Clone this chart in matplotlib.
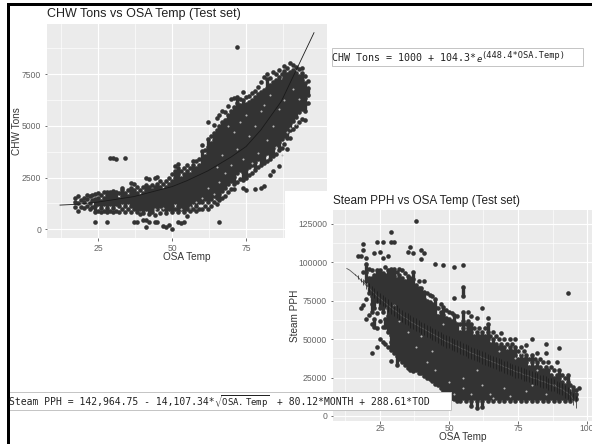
import matplotlib
matplotlib.use("Agg")
import matplotlib.pyplot as plt
from matplotlib.patches import Rectangle

plt.rcParams['font.family'] = ['Liberation Sans', 'DejaVu Sans']

# CHW chart: outside air temperature -> CHW tons read in that column
chw_temp = list(range(17, 98))
chw_tons = [
 [1100,1300,1500],[900,1250,1600],[1100,1400],[1050,1300,1500],[1150,1450,1650],[1000,1250,1600],
 [1100,1400,1650],[330,850,1150,1450,1700],[900,1200,1500,1750],[850,1050,1350,1650],[900,1200,1500,1800],
 [330,850,1050,1350,1650,1820],[900,1200,1500,1800,3450],[850,1050,1350,1650,1850,3450],[900,1200,1500,1800,3380],
 [850,1150,1450,1750],[1000,1300,1600,1900,2000],[850,1150,1450,1750,3450],[1000,1300,1600,1900],
 [850,1150,1450,1750,2000,2250],[330,1000,1300,1600,1900,2200],[330,850,1150,1450,1750,2050],[750,1000,1300,1600,1900],
 [430,800,1150,1450,1750,2050],[130,430,1000,1300,1600,1900,2150,2500],[350,750,1150,1450,1750,2050,2450],
 [850,1000,1300,1600,1900,2150],[350,700,1150,1450,1750,2050,2500],[350,1000,1300,1600,1900,2200,2550],
 [800,1150,1450,1750,2050,2350],[150,1000,1300,1600,1900,2200],[100,800,1150,1450,1750,2050,2350],
 [200,1000,1300,1600,1900,2200,2500],[0,850,1150,1450,1750,2050,2350,2650],[1000,1300,1600,1900,2200,2500,2800,3050],
 [350,850,1150,1450,1750,2050,2350,2650,2950,3150],[300,1000,1300,1600,1900,2200,2500,2800],
 [350,850,1150,1450,1750,2050,2350,2650,2950],[650,1000,1300,1600,1900,2200,2500,2800,3100],
 [900,1150,1450,1750,2050,2350,2650,2950],[1000,1300,1600,1900,2200,2500,2800,3100,3300],
 [900,1150,1450,1750,2050,2350,2650,2950,3300],[1000,1300,1600,1900,2200,2500,2800,3100,3400],
 [1000,1300,1600,1900,2200,2500,2800,3100,3400,3800,4050],[1150,1450,1750,2050,2350,2650,2950,3250,3550,3850],
 [1000,1300,1600,1900,2200,2500,2800,3100,3400,3700,4000,4350,5200],
 [1150,1450,1750,2050,2350,2650,2950,3250,3550,3850,4150,4500],
 [1300,1600,1900,2200,2500,2800,3100,3400,3700,4000,4300,4650,5050],
 [1200,1500,1800,2150,2500,2850,3200,3550,3900,4250,4600,4800,5400],
 [330,1400,1700,2000,2350,2700,3050,3400,3750,4100,4450,4800,5000,5500],
 [1500,1850,2200,2550,2900,3250,3600,3950,4300,4650,5000,5200,5700],
 [1600,2000,2350,2700,3050,3400,3750,4100,4450,4800,5150,5300,5650],
 [1800,2200,2550,2900,3250,3600,3950,4300,4650,5000,5350,5500,5950],
 [1950,2350,2700,3050,3400,3750,4100,4450,4800,5150,5500,5700,6300],
 [1950,2200,2550,2900,3250,3600,3950,4300,4650,5000,5350,5700,5900,6350],
 [2300,2700,3050,3400,3750,4100,4450,4800,5150,5500,5850,6100,6400,8800],
 [2450,2850,3200,3550,3900,4250,4600,4950,5300,5650,6000,6300],
 [2000,2400,2750,3100,3450,3800,4150,4500,4850,5200,5550,5900,6250,6650],
 [1900,2500,2900,3250,3600,3950,4300,4650,5000,5350,5700,6050,6400],
 [2600,3000,3350,3700,4050,4400,4750,5100,5450,5800,6150,6450],
 [2700,3100,3450,3800,4150,4500,4850,5200,5550,5900,6250,6600],
 [1950,2850,3250,3600,3950,4300,4650,5000,5350,5700,6050,6400,6700],
 [3000,3400,3750,4100,4450,4800,5150,5500,5850,6200,6550,6900],
 [2000,3100,3500,3850,4200,4550,4900,5250,5600,5950,6300,6650,7100],
 [2100,3200,3600,3950,4300,4650,5000,5350,5700,6050,6400,6750,7350],
 [3300,3700,4050,4400,4750,5100,5450,5800,6150,6500,6850,7250,7500],
 [2600,3400,3800,4150,4500,4850,5200,5550,5900,6250,6600,6950,7300],
 [2800,3550,3950,4300,4650,5000,5350,5700,6050,6400,6750,7100,7600],
 [3650,4050,4400,4750,5100,5450,5800,6150,6500,6850,7200,7500],
 [3050,3850,4200,4550,4900,5250,5600,5950,6300,6650,7000,7350,7700],
 [3950,4350,4700,5050,5400,5750,6100,6450,6800,7150,7500],
 [4100,4500,4850,5200,5550,5900,6250,6600,6950,7300,7650,7900],
 [3900,4400,4700,5050,5400,5750,6100,6450,6800,7150,7500,7800],
 [4400,4800,5150,5500,5850,6200,6550,6900,7250,7600,8050],
 [4850,5250,5600,5950,6300,6650,7000,7350,7700,7950],
 [5000,5450,5800,6150,6500,6850,7200,7550,7850],
 [5200,5650,6000,6350,6700,7050,7400,7750],
 [5350,5800,6100,6500,6850,7200,7550,7800],
 [5300,5700,6050,6350,6700,7050,7400],
 [6100,6500,6850,7150],
]

# light specks left open inside the CHW cloud
chw_open_temp = [53,47,44,56,58,60,62,64,66,68,70,72,74,76,78,79,80,82,84,85,86,87,88,89,90,91,92,93,75,77,71,69,73,83,81,67,65]
chw_open_tons = [1000,1050,1000,1100,1300,1500,2000,1700,2300,2700,3100,3900,3400,4500,5000,3700,5700,4300,5000,4000,5800,3600,6250,4700,4890,6800,5100,6300,5500,3200,4700,5000,5200,6500,6000,3600,3000]

# CHW fitted curve
chw_fit_temp = [12, 18, 25, 37, 50, 55, 62, 70, 75, 80, 87, 94, 98]
chw_fit_tons = [1170, 1210, 1320, 1580, 2065, 2350, 2820, 3500, 4000, 4800, 6200, 8300, 9500]

# Steam chart: temperature -> steam flow in thousands of PPH
steam_temp = list(range(17, 98))
steam_kpph = [
 [104],[70,104],[72,94,108,112],[63,76,88,94,99,103],[66,80,85,90,96],[41,60,68,73,78,84,90,95],
 [58,63,70,75,80,86,92,106],[45,57,67,75,80,85,90,95,113],[50,62,70,75,80,85,90,95,107],
 [48,58,68,73,78,83,88,93,103,113],[47,58,63,72,77,82,87,92,97],[45,55,60,65,70,75,80,85,90,95,104],
 [36,43,48,53,58,63,68,73,78,83,88,93,96,113,119.5],[41,46,51,56,61,66,71,76,81,86,91,96,113],
 [33,39,44,49,54,59,64,69,74,79,84,89,94],[37,42,47,52,57,62,67,72,77,82,87,92,96],
 [35,38,40,45,50,55,60,65,70,75,80,85,90,95],[33,38,43,48,53,58,63,68,73,78,83,88,93],
 [31,36,41,46,51,56,61,66,71,76,81,86,91,107],[30,35,40,45,50,55,60,65,70,75,80,85,90,110],
 [29,34,39,44,49,54,59,64,69,74,79,84,89,94,106],[30,35,40,45,50,55,60,65,70,75,80,85,127],
 [28,33,38,43,48,53,58,63,68,73,78,83,88],[28,33,38,43,48,53,58,63,68,73,78,83,102,108],
 [26,31,36,41,46,51,56,61,66,71,76,81,88,106],[25,30,35,40,45,50,55,60,65,70,75,80],
 [24,29,34,39,44,49,54,59,64,69,74,79],[23,28,33,38,43,48,53,58,63,68,73,78],
 [21,26,31,36,41,46,51,56,61,66,71,76,99],[20,25,30,35,40,45,50,55,60,65,70],
 [18,23,28,33,38,43,48,53,58,63,68,73],[16,21,26,31,36,41,46,51,56,61,66,71,98],
 [14,19,24,29,34,39,44,49,54,59,64,69],[13,18,23,28,33,38,43,48,53,58,63,68],
 [12,17,22,27,32,37,42,47,52,57,62,67],[11,16,21,26,31,36,41,46,51,56,61,66,77,97],
 [10,15,20,25,30,35,40,45,50,55,60,65],[10,15,20,25,30,35,40,45,50,55,60],
 [12,17,22,27,32,37,42,47,52,57,62,68,78,84,98],[10,15,20,25,30,35,40,45,50,55,60],
 [12,17,22,27,32,37,42,47,52,57,62,68],[6.5,10,15,20,25,30,35,40,45,50,55,60,65],
 [12,17,22,27,32,37,42,47,52,57],[5,10,15,20,25,30,35,40,45,50,55,64],
 [12,17,22,27,32,37,42,47,52,57],[6,10,15,20,25,30,35,40,45,50,55,70],
 [12,17,22,27,32,37,42,47,52,57],[10,15,20,25,30,35,40,45,50,55,60,64],
 [12,17,22,27,32,37,42,47,52],[10,15,20,25,30,35,40,45,50,55],
 [12,17,22,27,32,37,42,47,52],[10,15,20,25,30,35,40,45,50],
 [12,17,22,27,32,37,42,47,54],[10,15,20,25,30,35,40,45,50],
 [12,17,22,27,32,37,42,47],[10,15,20,25,30,35,40,45,50],
 [12,17,22,27,32,37,42,47],[10,15,20,25,30,35,40,45,50],
 [12,17,22,27,32,37,42],[10,15,20,25,30,35,40,45],
 [12,17,22,27,32,37,42],[10,15,20,25,30,35,40,46],
 [12,17,22,27,32,37],[10,15,20,25,30,35,40,50],
 [12,17,22,27,32,37],[10,15,20,25,30,35,41],
 [12,17,22,27,32,37],[10,15,20,25,30,35],
 [12,17,22,27,32,41,47],[10,15,20,25,30,35],
 [12,17,22,27,32],[10,15,20,25,30],
 [12,17,22,27,35],[10,15,20,25,30,44],
 [12,17,22,27],[10,15,20,25],
 [12,17,22,27,80],[10,15,20],
 [12,17,19],[11,14,17],[18],
]

# light specks left open inside the steam cloud
steam_open_temp = [50,55,58,62,65,70,72,78,80,85,42,38,45,35,32,30,48,55,60,68,74,82,88,76,66,52,44,40]
steam_open_kpph = [22,18,14,20,14,18,13,16,20,14,35,45,30,55,62,72,60,25,30,42,38,30,20,41,12,14,42,52]

# Steam fitted model: centre and half spread (thousands of PPH) per degree
steam_fit_temp = list(range(13, 97))
steam_fit_mid = [96,95,93.5,92,90.5,88.5,87,85,83.5,81.5,80,78,76.5,75,73.5,72,70.5,69,68,66.5,65,64,63,61.5,60.5,
 59.5,58.5,57.5,56.5,55.5,54.5,53.5,52.5,51.5,50.5,49.5,48.5,48,47,46,45.5,44.5,43.5,43,42,41,40.5,39.5,39,38,
 37.5,36.5,36,35,34.5,33.5,33,32,31.5,30.5,30,29,28.5,28,27,26.5,26,25,24.5,24,23,22.5,22,21,20.5,20,19,18,17.5,
 16,15,13.5,11,9]
steam_fit_half = [0,0,0,0.5,1,1.5,2,2.5,3,3,3,3.5,3.5,3.5,4,4,4,4,4,4,4,4,4,4,4,4,4,4,4,4,4,4,4,4,4,4,4,4,4,4,4,4,
 4,4,4,4,4,4,4,4,4,4,4,4,4,4,4,4,4,4,4,4,4,4,4,4,4,4,4,4,4,4,4,4,4,4,4,4,4,4,4,4,4,4]

x_ticks1 = [25, 50, 75]
y_ticks1 = [0, 2500, 5000, 7500]
x_ticks2 = [25, 50, 75, 100]
y_ticks2 = [0, 25000, 50000, 75000, 100000, 125000]

W, H = 592, 444
fig = plt.figure(figsize=(W / 100, H / 100), dpi=100, facecolor='white')
POINT = '#333333'

def px_axes(x0, y0, x1, y1, z):
    return fig.add_axes([x0 / W, 1 - y1 / H, (x1 - x0) / W, (y1 - y0) / H], zorder=z)

def style(ax, xt, yt, xminor, yminor, pad):
    ax.set_facecolor('#EBEBEB')
    for s in ax.spines.values():
        s.set_visible(False)
    ax.set_xticks(xt)
    ax.set_yticks(yt)
    ax.set_xticks(xminor, minor=True)
    ax.set_yticks(yminor, minor=True)
    ax.grid(True, which='major', color='white', lw=0.85)
    ax.grid(True, which='minor', color='white', lw=0.45)
    ax.tick_params(which='minor', length=0)
    ax.tick_params(which='major', length=1.8, width=0.6, color='#555555', labelcolor='#666666',
                   labelsize=6.2, pad=2.5)
    ax.tick_params(axis='x', which='major', pad=pad)
    ax.set_axisbelow(True)

def draw_cloud(ax, cols_x, cols_y, scale, gap, open_x, open_y, first_join):
    # overplotted points merge into a solid mass: inner neighbours in a column are joined,
    # the outermost point of each column stays a separate dot
    xs, ys, rx, ra, rb = [], [], [], [], []
    for t, vals in zip(cols_x, cols_y):
        vals = sorted(vals)
        for i, v in enumerate(vals):
            xs.append(t)
            ys.append(v * scale)
            if first_join <= i <= len(vals) - 2 and v - vals[i - 1] <= gap:
                rx.append(t)
                ra.append(vals[i - 1] * scale)
                rb.append(v * scale)
    ax.vlines(rx, ra, rb, color=POINT, lw=2.4, zorder=3, capstyle='butt')
    ax.scatter(xs, ys, s=11, c=POINT, linewidths=0, zorder=3)
    ax.scatter(open_x, [v * scale for v in open_y], s=2.2, c='#B8B8B8', linewidths=0, zorder=3.5)

# top chart
ax1 = px_axes(47, 24, 327, 238, 1)
ax1.set_xlim(7.6, 102.4)
ax1.set_ylim(-420, 9920)
style(ax1, x_ticks1, y_ticks1, [12.5, 37.5, 62.5, 87.5], [1250, 3750, 6250, 8750], 2.5)
draw_cloud(ax1, chw_temp, chw_tons, 1, 420, chw_open_temp, chw_open_tons, 2)
ax1.plot(chw_fit_temp, chw_fit_tons, color='#1a1a1a', lw=0.6, zorder=4)
ax1.set_xlabel('OSA Temp', fontsize=7.2, color='#333333')
ax1.xaxis.set_label_coords(0.5, -(257 - 238) / 214, transform=ax1.transAxes)
ax1.xaxis.label.set_va('center')
ax1.set_ylabel('CHW Tons', fontsize=7.2, color='#333333', va='center')
ax1.yaxis.set_label_coords((17 - 47) / 280, 0.5)
ax1.set_title('CHW Tons vs OSA Temp (Test set)', fontsize=9.0, color='#222222', loc='left', pad=5)

# white backing of the lower pasted picture
mask = fig.add_axes([0, 0, 1, 1], zorder=2)
mask.set_xlim(0, W)
mask.set_ylim(H, 0)
mask.axis('off')
mask.add_patch(Rectangle((285, 191), W - 285, H - 191, fc='white', ec='none'))

# lower chart
ax2 = px_axes(333, 210, 592, 421, 3)
ax2.set_xlim(8, 101.8)
ax2.set_ylim(-3255, 134100)
style(ax2, x_ticks2, y_ticks2, [12.5, 37.5, 62.5, 87.5], [12500, 37500, 62500, 87500, 112500], 0)
draw_cloud(ax2, steam_temp, steam_kpph, 1000, 6.5, steam_open_temp, steam_open_kpph, 1)
low = [(m - h) * 1000 for m, h in zip(steam_fit_mid, steam_fit_half)]
high = [(m + h) * 1000 for m, h in zip(steam_fit_mid, steam_fit_half)]
ax2.plot(steam_fit_temp, [m * 1000 for m in steam_fit_mid], color='#555555', lw=0.6, zorder=4)
ax2.vlines(steam_fit_temp, low, high, color='#1c1c1c', lw=0.5, zorder=4)
ax2.set_xlabel('OSA Temp', fontsize=7.2, color='#333333')
ax2.xaxis.set_label_coords(0.5, -(436.5 - 421) / 211)
ax2.xaxis.label.set_va('center')
ax2.set_ylabel('Steam PPH', fontsize=7.2, color='#333333', va='center')
ax2.yaxis.set_label_coords((295 - 333) / 259, 0.5)
ax2.set_title('Steam PPH vs OSA Temp (Test set)', fontsize=8.5, color='#222222', loc='left', pad=4)

# overlay: equation boxes and frame
ov = fig.add_axes([0, 0, 1, 1], zorder=5)
ov.set_xlim(0, W)
ov.set_ylim(H, 0)
ov.axis('off')
ov.patch.set_alpha(0)
mono = 'DejaVu Sans Mono'
plt.rcParams['mathtext.fontset'] = 'dejavusans'

ov.add_patch(Rectangle((332, 48), 251, 18.5, fc='white', ec='#C4C4C4', lw=0.7))
ov.text(332.5, 58, 'CHW Tons = 1000 + 104.3*', family=mono, fontsize=7.2, color='#222222', va='center', ha='left')
ov.text(477, 59, 'e', family=mono, fontsize=6.5, style='italic', color='#222222', va='center', ha='left')
ov.text(481, 55, '(448.4*OSA.Temp)', family=mono, fontsize=6.2, color='#222222', va='center', ha='left')

ov.add_patch(Rectangle((3, 392), 448, 18, fc='white', ec='#C4C4C4', lw=0.7))
ov.text(9, 401.5, 'Steam PPH = 142,964.75 - 14,107.34*', family=mono, fontsize=7.0, color='#222222',
        va='center', ha='left')
ov.text(214, 401.5, r'$\sqrt{\mathtt{OSA.Temp}}$', fontsize=6.5, color='#222222', va='center', ha='left')
ov.text(277, 401.5, '+ 80.12*MONTH + 288.61*TOD', family=mono, fontsize=7.0, color='#222222', va='center', ha='left')

ov.add_patch(Rectangle((0, 0), 7, H, fc='white', ec='none'))
ov.add_patch(Rectangle((7, 3.5), W - 7, 2.5, fc='black', ec='none'))
ov.add_patch(Rectangle((7, 3.5), 3, H - 3.5, fc='black', ec='none'))

fig.savefig('out.png', dpi=100, facecolor='white')
